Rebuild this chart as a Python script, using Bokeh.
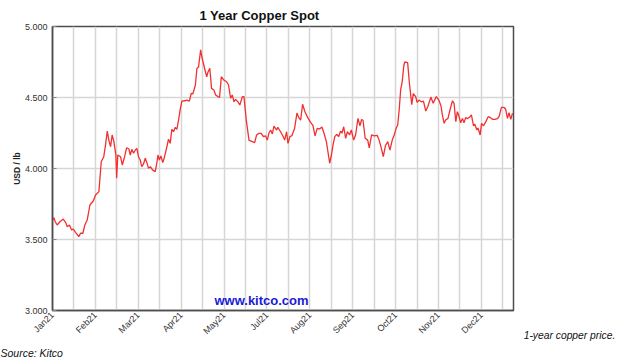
import math
from bokeh.plotting import figure
from bokeh.layouts import column, row
from bokeh.models import (Range1d, FixedTicker, NumeralTickFormatter, Label,
                          ColumnDataSource, LinearAxis)
from bokeh.embed import file_html
from bokeh.resources import INLINE

# ---------------- data ----------------
# x = trading-day index from the start of the chart, y = USD / lb
day = [0, 0.7, 1.4, 2.4, 3.8, 5.5, 6.7, 7.6, 8.7, 9.8,
       10.6, 11.8, 13.5, 14.4, 15.6, 16.6, 17.8, 19.2, 20.9, 22.1,
       23.8, 25.0, 26.3, 27.2, 28.1, 28.9, 29.8, 30.6, 31.5, 32.5,
       32.9, 33.5, 34.9, 35.8, 37.0, 38.0, 39.2, 39.9, 40.7, 41.6,
       42.5, 43.3, 44.1, 45.0, 45.8, 46.7, 47.6, 48.4, 49.3, 50.2,
       51.3, 52.7, 53.5, 54.1, 54.8, 55.6, 56.6, 57.5, 58.7, 59.5,
       60.4, 61.2, 62.1, 63.0, 63.8, 64.7, 65.6, 66.4, 67.8, 68.9,
       70.2, 71.2, 72.0, 73.3, 74.1, 74.9, 76.0, 76.6, 78.0, 79.1,
       79.8, 80.7, 81.6, 82.8, 83.7, 84.9, 85.7, 86.6, 87.9, 89.3,
       90.3, 91.4, 92.2, 93.1, 93.9, 95.1, 96.1, 97.4, 98.2, 99.4,
       100.8, 102.5, 103.7, 104.7, 105.9, 107.1, 108.2, 109.3, 110.2, 111.0,
       111.9, 112.8, 113.6, 115.0, 115.6, 117.0, 118.4, 119.1, 120.1, 120.8,
       121.8, 122.8, 124.2, 125.4, 126.3, 127.3, 128.3, 129.5, 130.9, 132.4,
       133.6, 134.7, 135.8, 137.0, 138.2, 139.3, 140.5, 141.3, 142.2, 143.1,
       143.9, 144.8, 145.9, 146.8, 147.8, 148.5, 149.4, 150.4, 151.3, 152.4,
       153.3, 154.5, 155.5, 156.7, 157.7, 158.6, 159.3, 160.4, 161.7, 162.5,
       163.7, 165.0, 166.6, 167.6, 168.5, 169.7, 170.8, 172.0, 173.1, 174.3,
       175.4, 176.3, 177.1, 177.9, 178.6, 179.4, 180.2, 180.7, 182.2, 183.1,
       184.3, 185.1, 186.3, 187.1, 188.0, 189.2, 190.3, 191.5, 192.6, 194.1,
       195.3, 196.9, 198.2, 199.3, 200.0, 200.9, 201.7, 202.9, 203.9, 205.2,
       206.0, 206.9, 207.7, 208.5, 209.4, 210.3, 211.1, 212.0, 212.8, 214.2,
       214.9, 216.0, 216.6, 217.7, 218.3, 219.4, 220.1, 221.1, 222.3, 223.5,
       224.5, 225.7, 226.9, 228.3, 229.1, 230.3, 231.6, 232.5, 233.4, 234.2,
       235.1, 236.0]

price = [3.637, 3.654, 3.625, 3.602, 3.625, 3.644, 3.621, 3.590, 3.602, 3.567,
         3.574, 3.550, 3.520, 3.544, 3.544, 3.602, 3.637, 3.743, 3.771, 3.813,
         3.837, 4.048, 4.083, 4.165, 4.264, 4.200, 4.154, 4.236, 4.189, 4.095,
         3.931, 4.095, 4.083, 4.025, 4.083, 4.146, 4.137, 4.095, 4.135, 4.107,
         4.130, 4.142, 4.083, 4.060, 4.013, 4.032, 4.072, 4.041, 4.001, 4.013,
         3.990, 3.978, 4.037, 4.095, 4.060, 4.088, 4.041, 4.083, 4.154, 4.206,
         4.177, 4.276, 4.259, 4.290, 4.276, 4.342, 4.424, 4.475, 4.477, 4.482,
         4.475, 4.530, 4.525, 4.588, 4.706, 4.713, 4.835, 4.787, 4.706, 4.646,
         4.680, 4.706, 4.564, 4.553, 4.518, 4.506, 4.500, 4.646, 4.623, 4.611,
         4.588, 4.494, 4.518, 4.470, 4.487, 4.470, 4.447, 4.506, 4.506, 4.342,
         4.200, 4.189, 4.182, 4.236, 4.248, 4.248, 4.224, 4.229, 4.200, 4.248,
         4.271, 4.243, 4.299, 4.271, 4.290, 4.259, 4.224, 4.200, 4.259, 4.177,
         4.224, 4.231, 4.283, 4.390, 4.360, 4.340, 4.452, 4.400, 4.360, 4.325,
         4.303, 4.230, 4.283, 4.278, 4.292, 4.248, 4.189, 4.118, 4.037, 4.095,
         4.165, 4.224, 4.241, 4.224, 4.264, 4.248, 4.294, 4.212, 4.259, 4.236,
         4.271, 4.200, 4.236, 4.353, 4.301, 4.345, 4.340, 4.213, 4.200, 4.145,
         4.236, 4.230, 4.233, 4.198, 4.154, 4.083, 4.160, 4.189, 4.130, 4.200,
         4.240, 4.283, 4.306, 4.420, 4.553, 4.611, 4.720, 4.750, 4.745, 4.600,
         4.450, 4.528, 4.506, 4.465, 4.482, 4.470, 4.475, 4.405, 4.438, 4.503,
         4.459, 4.506, 4.482, 4.440, 4.377, 4.318, 4.342, 4.353, 4.412, 4.477,
         4.459, 4.330, 4.400, 4.370, 4.322, 4.353, 4.322, 4.360, 4.350, 4.365,
         4.377, 4.300, 4.313, 4.271, 4.285, 4.236, 4.318, 4.300, 4.330, 4.365,
         4.360, 4.346, 4.346, 4.352, 4.365, 4.431, 4.431, 4.417, 4.353, 4.393,
         4.346, 4.389]

assert len(day) == len(price)

month_ticks = [0, 22, 44, 66, 88, 110, 132, 154, 176, 198, 220]
month_labels = ["Jan21", "Feb21", "Mar21", "Apr21", "May21", "Jul21",
                "Aug21", "Sep21", "Oct21", "Nov21", "Dec21"]
half_ticks = [11, 33, 55, 77, 99, 121, 143, 165, 187, 209, 231]
y_ticks = [3.0, 3.5, 4.0, 4.5, 5.0]

title_text = "1 Year Copper Spot"
watermark_text = "www.kitco.com"
caption_text = "1-year copper price."
source_text = "Source: Kitco"

FONT = "Liberation Sans"
GRID = "#d6d6d6"
AXIS = "#4d4d4d"

# ---------------- main chart ----------------
p = figure(width=516, height=344,
           min_border_left=52, min_border_right=3,
           min_border_top=26, min_border_bottom=34,
           x_range=Range1d(0, 236.5), y_range=Range1d(3.0, 5.0),
           output_backend="svg", toolbar_location=None, tools="")
p.background_fill_color = "white"
p.border_fill_color = "white"
p.outline_line_color = AXIS
p.outline_line_width = 1.5

p.title.text = title_text
p.title.align = "left"
p.title.offset = 147
p.title.standoff = 7
p.title.text_font = FONT
p.title.text_font_style = "bold"
p.title.text_font_size = "13px"
p.title.text_color = "#111111"

src = ColumnDataSource(dict(day=day, price=price))
p.line("day", "price", source=src, line_color="#f23030", line_width=1.3)

# x axis
xa = p.xaxis[0]
xa.ticker = FixedTicker(ticks=month_ticks, minor_ticks=half_ticks)
xa.major_label_overrides = {t: l for t, l in zip(month_ticks, month_labels)}
xa.major_label_orientation = math.pi / 4
xa.major_label_text_font = FONT
xa.major_label_text_font_size = "9px"
xa.major_label_text_color = "#333333"
xa.major_label_standoff = 3
xa.major_tick_out = 0
xa.major_tick_in = 0
xa.minor_tick_out = 0
xa.minor_tick_in = 0
xa.axis_line_color = AXIS
xa.axis_line_width = 1.5

# y axis
ya = p.yaxis[0]
ya.ticker = FixedTicker(ticks=y_ticks, minor_ticks=[])
ya.formatter = NumeralTickFormatter(format="0.000")
ya.major_label_text_font = FONT
ya.major_label_text_font_size = "9px"
ya.major_label_text_color = "#333333"
ya.major_label_standoff = 5
ya.major_tick_out = 0
ya.major_tick_in = 4
ya.major_tick_line_color = "#888888"
ya.minor_tick_out = 0
ya.minor_tick_in = 0
ya.axis_line_color = AXIS
ya.axis_line_width = 1.5
ya.axis_label = "USD / lb"
ya.axis_label_text_font = FONT
ya.axis_label_text_font_style = "bold"
ya.axis_label_text_font_size = "8.5px"
ya.axis_label_text_color = "#222222"
ya.axis_label_standoff = 0

# grids
p.xgrid.grid_line_color = GRID
p.xgrid.grid_line_width = 1.5
p.xgrid.minor_grid_line_color = GRID
p.xgrid.minor_grid_line_width = 1.5
p.ygrid.grid_line_color = GRID
p.ygrid.grid_line_width = 1.5

p.add_layout(Label(x=209, y=10, x_units="screen", y_units="screen",
                   text=watermark_text, text_font=FONT,
                   text_font_style="bold", text_font_size="13px",
                   text_color="#1a1ad6", text_align="center",
                   text_baseline="middle"))


def text_panel(w, h, **borders):
    f = figure(width=w, height=h, min_border=0,
               x_axis_location=None, y_axis_location=None,
               x_range=Range1d(0, 1), y_range=Range1d(0, 1),
               output_backend="svg", toolbar_location=None, tools="",
               **borders)
    f.grid.visible = False
    f.outline_line_color = None
    f.background_fill_color = "white"
    f.border_fill_color = "white"
    return f


# caption to the right of the chart: same border structure as the chart,
# the caption is the label of a tick-less axis below its (empty) frame
p_cap = text_panel(106, 344, min_border_top=26, min_border_bottom=34)
cap_axis = LinearAxis(ticker=FixedTicker(ticks=[]),
                      axis_line_color=None,
                      major_tick_line_color=None, minor_tick_line_color=None,
                      major_label_text_font_size="0px",
                      axis_label=caption_text, axis_label_standoff=19,
                      axis_label_text_font=FONT,
                      axis_label_text_font_style="italic",
                      axis_label_text_font_size="10.3px",
                      axis_label_text_color="#111111")
p_cap.add_layout(cap_axis, "below")

# source line under the chart
p_src = text_panel(622, 16)
p_src.add_layout(Label(x=0, y=8, x_units="screen", y_units="screen",
                       text=source_text, text_font=FONT,
                       text_font_style="italic", text_font_size="10.5px",
                       text_color="#111111", text_align="left",
                       text_baseline="middle"))

layout = column(row(p, p_cap, spacing=0), p_src, spacing=0)

open("out.html", "w").write(file_html(layout, INLINE))
